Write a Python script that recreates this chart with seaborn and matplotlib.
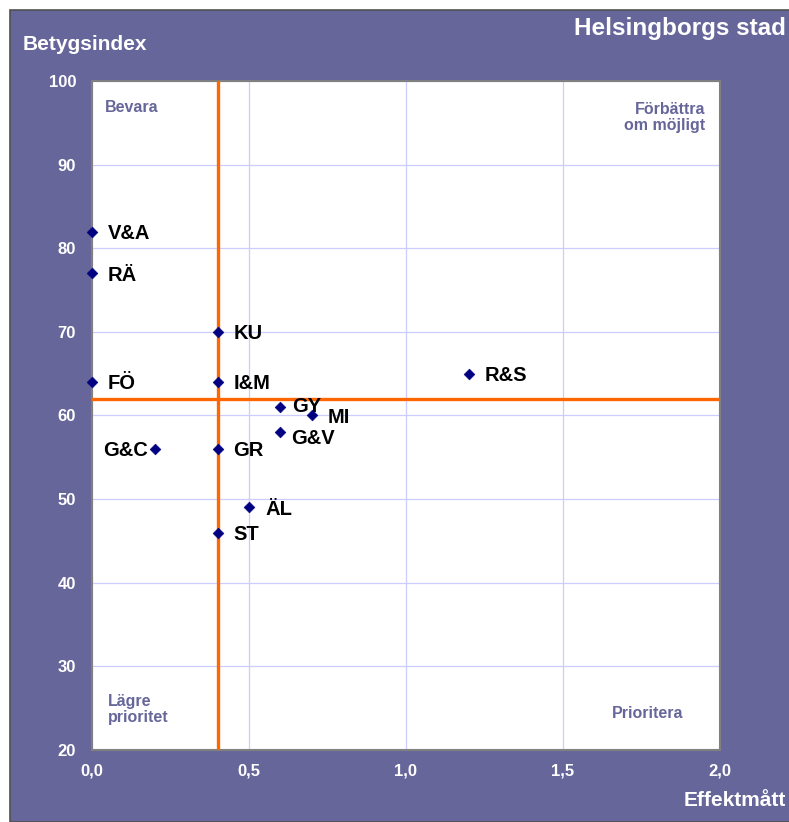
import numpy as np
import pandas as pd
import seaborn as sns
import matplotlib
matplotlib.use("Agg")
import matplotlib.pyplot as plt
from matplotlib.patches import Rectangle
from matplotlib.ticker import FuncFormatter

# data
labels = ["V&A", "RÄ", "FÖ", "KU", "I&M", "GR", "ST", "G&C", "ÄL", "GY", "G&V", "MI", "R&S"]
effekt = [0.0, 0.0, 0.0, 0.4, 0.4, 0.4, 0.4, 0.2, 0.5, 0.6, 0.6, 0.7, 1.2]
betyg = [82, 77, 64, 70, 64, 56, 46, 56, 49, 61, 58, 60, 65]
x_ticks = [0.0, 0.5, 1.0, 1.5, 2.0]
y_ticks = [20, 30, 40, 50, 60, 70, 80, 90, 100]
x_split = 0.4
y_split = 62

purple = "#66669A"

sns.set_style("white")
plt.rcParams["font.family"] = ["Liberation Sans", "DejaVu Sans"]
plt.rcParams["font.weight"] = "bold"

df = pd.DataFrame({"label": labels, "x": effekt, "y": betyg})

fig = plt.figure(figsize=(7.89, 8.22), dpi=100)
fig.patch.set_facecolor("white")
fig.patches.append(Rectangle((10 / 789, 0), 1.0, 812 / 822, transform=fig.transFigure,
                             facecolor=purple, edgecolor="#505050", lw=1.2, zorder=-10))

ax = fig.add_axes([92 / 789, 72 / 822, 628 / 789, 669 / 822])
ax.set_facecolor("white")

sns.scatterplot(data=df, x="x", y="y", marker="D", s=30, color="#000080",
                edgecolor="#000080", ax=ax, zorder=5)
ax.collections[0].set_clip_on(False)

ax.axvline(x_split, color="#FF6600", lw=2.4, zorder=3)
ax.axhline(y_split, color="#FF6600", lw=2.4, zorder=3)

ax.set_xlim(0, 2)
ax.set_ylim(20, 100)
ax.set_xticks(x_ticks)
ax.set_yticks(y_ticks)
ax.xaxis.set_major_formatter(FuncFormatter(lambda v, p: f"{v:.1f}".replace(".", ",")))
ax.grid(True, color="#CCCCFF", lw=0.9, zorder=0)
ax.tick_params(length=0, colors="white", labelsize=12)
ax.tick_params(axis="y", pad=11.5)
ax.tick_params(axis="x", pad=10)
for t in ax.get_xticklabels() + ax.get_yticklabels():
    t.set_fontweight("bold")
for s in ax.spines.values():
    s.set_color("#808080")
    s.set_linewidth(1.5)
ax.set_xlabel("")
ax.set_ylabel("")

# label offsets in points (dx, dy, ha)
offsets = {"G&C": (-5, 0, "right"), "GY": (8.5, 1.5, "left"), "G&V": (8, -3.6, "left")}
for lab, xv, yv in zip(labels, effekt, betyg):
    dx, dy, ha = offsets.get(lab, (11.5, 0, "left"))
    ax.annotate(lab, (xv, yv), xytext=(dx, dy - 5.2), textcoords="offset points",
                ha=ha, va="baseline", fontsize=14.5, fontweight="bold", color="black",
                zorder=6)

ax.text(0.021, 0.961, "Bevara", transform=ax.transAxes, ha="left", va="center",
        color=purple, fontsize=11.5, fontweight="bold")
ax.text(0.976, 0.945, "Förbättra\nom möjligt", transform=ax.transAxes, ha="right",
        va="center", color=purple, fontsize=11.5, fontweight="bold", linespacing=1.1)
ax.text(0.025, 0.061, "Lägre\nprioritet", transform=ax.transAxes, ha="left", va="center",
        color=purple, fontsize=11.5, fontweight="bold", linespacing=1.1)
ax.text(0.941, 0.054, "Prioritera", transform=ax.transAxes, ha="right", va="center",
        color=purple, fontsize=11.5, fontweight="bold")

fig.text(23 / 789, 1 - 45 / 822, "Betygsindex", ha="left", va="center", color="white",
         fontsize=15, fontweight="bold")
fig.text(786 / 789, 1 - 29 / 822, "Helsingborgs stad", ha="right", va="center",
         color="white", fontsize=17.5, fontweight="bold")
fig.text(786 / 789, 1 - 800 / 822, "Effektmått", ha="right", va="center", color="white",
         fontsize=15, fontweight="bold")

fig.savefig("out.png", dpi=100)
